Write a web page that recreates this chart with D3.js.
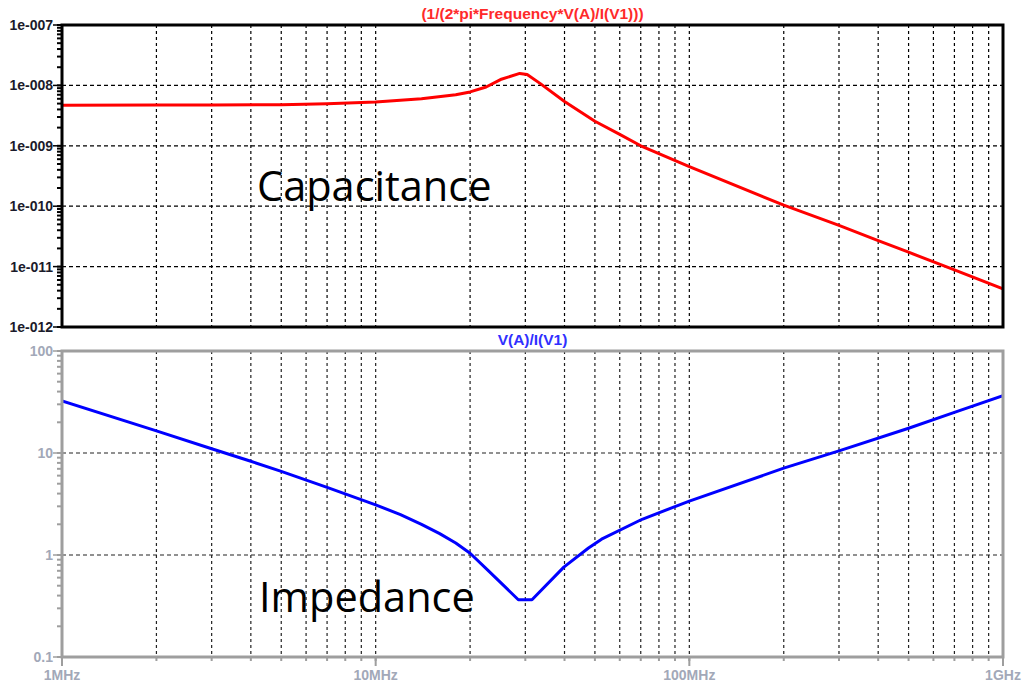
<!DOCTYPE html>
<html>
<head>
<meta charset="utf-8">
<script src="https://cdn.jsdelivr.net/npm/d3@7"></script>
<style>
  html, body { margin: 0; padding: 0; background: #ffffff; }
  svg { display: block; }
</style>
</head>
<body>
<div id="chart"></div>
<script>
// values (frequency in MHz)
var capFreqMHz = [1, 2, 3, 5, 7, 10, 14, 18, 20, 22.5, 25, 28.8, 30.4, 33.5, 40, 50, 60, 70, 100, 200, 300, 400, 500, 700, 1000];
var capFarads = [4.7e-9, 4.72e-9, 4.75e-9, 4.8e-9, 4.95e-9, 5.3e-9, 6.0e-9, 7.0e-9, 7.8e-9, 9.4e-9, 1.25e-8, 1.58e-8, 1.52e-8, 1.07e-8, 5.4e-9, 2.55e-9, 1.55e-9, 1.0e-9, 4.5e-10, 1.04e-10, 4.8e-11, 2.7e-11, 1.73e-11, 8.8e-12, 4.3e-12];

var zFreqMHz = [1, 2, 3, 4, 5, 7, 10, 12, 14, 16, 18, 20, 22.9, 28.5, 31.5, 39.8, 47.7, 52.5, 70.7, 100, 200, 300, 500, 700, 1000];
var zOhms = [32.4, 16.5, 11.0, 8.3, 6.6, 4.6, 3.1, 2.49, 2.0, 1.62, 1.31, 1.04, 0.70, 0.364, 0.364, 0.76, 1.17, 1.43, 2.24, 3.38, 7.1, 10.5, 17.5, 25, 36.5];

var freqTicks = [1, 10, 100, 1000];
var freqTickLabels = ["1MHz", "10MHz", "100MHz", "1GHz"];
var capTicks = [1e-7, 1e-8, 1e-9, 1e-10, 1e-11, 1e-12];
var capTickLabels = ["1e-007", "1e-008", "1e-009", "1e-010", "1e-011", "1e-012"];
var zTicks = [100, 10, 1, 0.1];
var zTickLabels = ["100", "10", "1", "0.1"];

var capTitle = "(1/(2*pi*Frequency*V(A)/I(V1)))";
var zTitle = "V(A)/I(V1)";

var W = 1022, H = 684;
var left = 62, right = 1003;
var labelFont = "'Liberation Sans', Arial, sans-serif";

var svg = d3.select("#chart").append("svg")
    .attr("width", W)
    .attr("height", H)
    .style("background", "#fff");

var x = d3.scaleLog().domain([1, 1000]).range([left, right]);

drawPanel = function(p) {
    var y = d3.scaleLog().domain(p.domain).range([p.bottom, p.top]);
    var g = svg.append("g");
    var minorX = x.ticks().filter(function(d) { return d > 1 && d < 1000; });
    var decadesY = p.ticks.filter(function(d) {
        return d > p.domain[0] && d < p.domain[1];
    });

    // dashed grid
    g.selectAll(".vgrid").data(minorX).enter().append("line")
        .attr("x1", function(d) { return x(d); })
        .attr("x2", function(d) { return x(d); })
        .attr("y1", p.top)
        .attr("y2", p.bottom)
        .attr("stroke", p.gridColor)
        .attr("stroke-width", 1.2)
        .attr("stroke-dasharray", "3,3");
    g.selectAll(".hgrid").data(decadesY).enter().append("line")
        .attr("x1", left)
        .attr("x2", right)
        .attr("y1", function(d) { return y(d); })
        .attr("y2", function(d) { return y(d); })
        .attr("stroke", p.gridColor)
        .attr("stroke-width", 1.2)
        .attr("stroke-dasharray", "4,3");

    // curve (LTspice draws a plain polyline)
    var clipId = "clip" + p.id;
    svg.append("clipPath").attr("id", clipId).append("rect")
        .attr("x", left).attr("y", p.top)
        .attr("width", right - left).attr("height", p.bottom - p.top);
    var pts = p.freq.map(function(f, i) { return [f, p.values[i]]; });
    var line = d3.line()
        .x(function(d) { return x(d[0]); })
        .y(function(d) { return y(d[1]); });
    g.append("path")
        .datum(pts)
        .attr("clip-path", "url(#" + clipId + ")")
        .attr("fill", "none")
        .attr("stroke", p.lineColor)
        .attr("stroke-width", 3)
        .attr("stroke-linejoin", "round")
        .attr("d", line);

    // minor ticks on the left axis
    g.selectAll(".ytick").data(y.ticks()).enter().append("line")
        .attr("x1", left - 5)
        .attr("x2", left)
        .attr("y1", function(d) { return y(d); })
        .attr("y2", function(d) { return y(d); })
        .attr("stroke", p.frameColor)
        .attr("stroke-width", 2);
    g.selectAll(".ymajor").data(p.ticks).enter().append("line")
        .attr("x1", left - 9)
        .attr("x2", left)
        .attr("y1", function(d) { return y(d); })
        .attr("y2", function(d) { return y(d); })
        .attr("stroke", p.frameColor)
        .attr("stroke-width", 1.5);
    g.selectAll(".ylabel").data(p.ticks).enter().append("text")
        .attr("x", left - 9)
        .attr("y", function(d) { return y(d); })
        .attr("dy", "0.36em")
        .attr("text-anchor", "end")
        .attr("font-family", labelFont)
        .attr("font-weight", "bold")
        .attr("font-size", 14)
        .attr("fill", p.labelColor)
        .text(function(d, i) { return p.tickLabels[i]; });

    // frame
    g.append("rect")
        .attr("x", left)
        .attr("y", p.top)
        .attr("width", right - left)
        .attr("height", p.bottom - p.top)
        .attr("fill", "none")
        .attr("stroke", p.frameColor)
        .attr("stroke-width", 3);

    g.append("text")
        .attr("x", (left + right) / 2)
        .attr("y", p.top - 6)
        .attr("text-anchor", "middle")
        .attr("font-family", labelFont)
        .attr("font-weight", "bold")
        .attr("font-size", 15.5)
        .attr("fill", p.titleColor)
        .text(p.title);

    g.append("text")
        .attr("x", p.noteX)
        .attr("y", p.noteY)
        .attr("font-family", "'Open Sans', 'Noto Sans', sans-serif")
        .attr("font-size", 41.5)
        .attr("fill", "#000")
        .text(p.note);

    return y;
}

drawPanel({
    id: 1, top: 25, bottom: 327, domain: [1e-12, 1e-7],
    freq: capFreqMHz, values: capFarads,
    ticks: capTicks, tickLabels: capTickLabels,
    gridColor: "#000", frameColor: "#000", labelColor: "#1b1b2b",
    lineColor: "#ff0000", title: capTitle, titleColor: "#ff2a2a",
    note: "Capacitance", noteX: 257, noteY: 201
});

drawPanel({
    id: 2, top: 351, bottom: 657, domain: [0.1, 100],
    freq: zFreqMHz, values: zOhms,
    ticks: zTicks, tickLabels: zTickLabels,
    gridColor: "#222", frameColor: "#9e9e9e", labelColor: "#a2a8b8",
    lineColor: "#0000ff", title: zTitle, titleColor: "#3030ff",
    note: "Impedance", noteX: 259, noteY: 612
});

// frequency axis under the lower panel
var xg = svg.append("g");
xg.selectAll(".xtick").data(x.ticks()).enter().append("line")
    .attr("x1", function(d) { return x(d); })
    .attr("x2", function(d) { return x(d); })
    .attr("y1", 657)
    .attr("y2", 661)
    .attr("stroke", "#9e9e9e")
    .attr("stroke-width", 2);
xg.selectAll(".xmajor").data(freqTicks).enter().append("line")
    .attr("x1", function(d) { return x(d); })
    .attr("x2", function(d) { return x(d); })
    .attr("y1", 657)
    .attr("y2", 666)
    .attr("stroke", "#9e9e9e")
    .attr("stroke-width", 2);
xg.selectAll(".xlabel").data(freqTicks).enter().append("text")
    .attr("x", function(d) { return x(d); })
    .attr("y", 680)
    .attr("text-anchor", "middle")
    .attr("font-family", labelFont)
    .attr("font-weight", "bold")
    .attr("font-size", 14)
    .attr("fill", "#a2a8b8")
    .text(function(d, i) { return freqTickLabels[i]; });
</script>
</body>
</html>
